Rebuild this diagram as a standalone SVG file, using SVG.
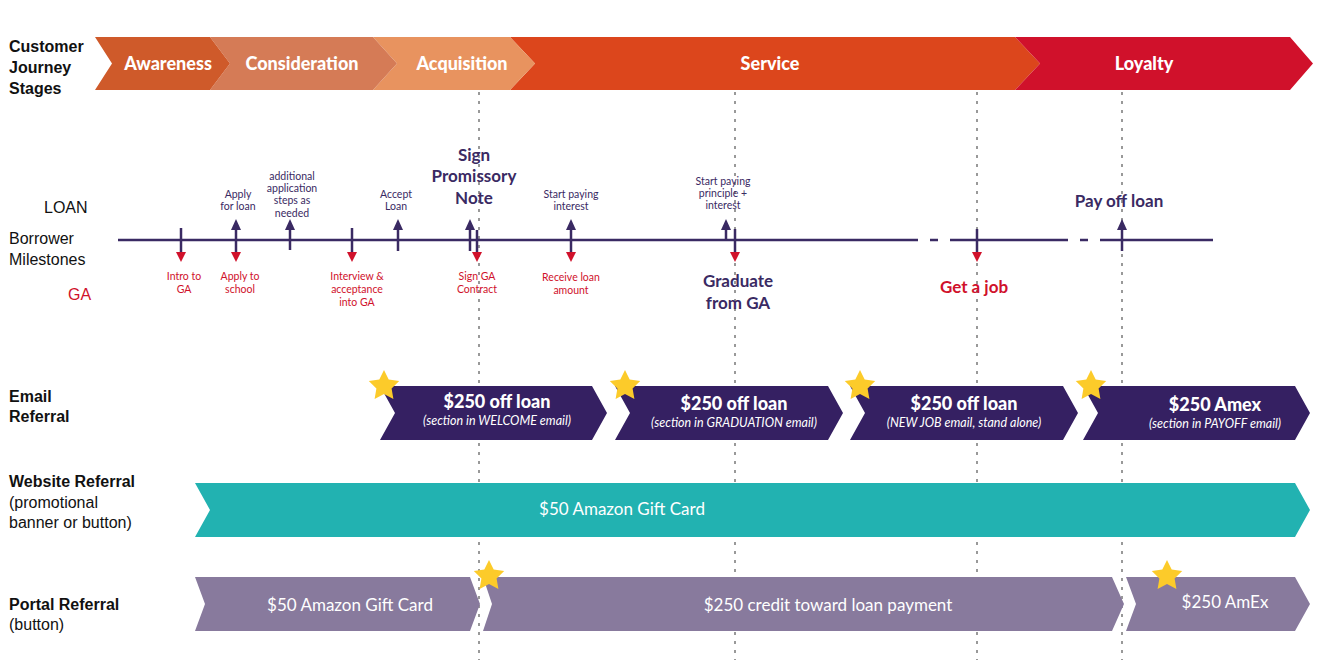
<svg xmlns="http://www.w3.org/2000/svg" width="1330" height="665" viewBox="0 0 1330 665">
<style>
.lbl{font-family:"Liberation Sans",Arial,sans-serif;font-weight:bold;font-size:16px;fill:#111}
.lbln{font-family:"Liberation Sans",Arial,sans-serif;font-size:16px;fill:#111}
.st{font-family:Lato,"Liberation Sans",sans-serif;font-weight:900;font-size:18px;fill:#fff;text-anchor:middle}
.sm{font-family:Lato,"Liberation Sans",sans-serif;font-size:10.5px;text-anchor:middle}
.p{fill:#3A2A63}.r{fill:#D0112B}
.big{font-family:Lato,"Liberation Sans",sans-serif;font-weight:bold;font-size:17px;text-anchor:middle}
.eh{font-family:Lato,"Liberation Sans",sans-serif;font-weight:900;font-size:18px;fill:#fff;text-anchor:middle}
.es{font-family:Lato,"Liberation Sans",sans-serif;font-style:italic;font-size:12.5px;fill:#fff;text-anchor:middle}
.wt{font-family:Lato,"Liberation Sans",sans-serif;font-size:17px;fill:#fff;text-anchor:middle}
.vd{stroke:#999;stroke-width:2;stroke-dasharray:3,6}
.ml{stroke:#3A2A63;stroke-width:2.5}
.star{fill:#FCCB2A}
</style>
<defs>
<polygon id="star" class="star" points="0,-16 4.7,-6.5 15.2,-4.9 7.6,2.5 9.4,12.9 0,8 -9.4,12.9 -7.6,2.5 -15.2,-4.9 -4.7,-6.5"/>
</defs>
<g id="vlines">
<line class="vd" x1="479" y1="92" x2="479" y2="660"/>
<line class="vd" x1="735" y1="92" x2="735" y2="660"/>
<line class="vd" x1="977" y1="92" x2="977" y2="660"/>
<line class="vd" x1="1122" y1="92" x2="1122" y2="660"/>
</g>
<g id="labels">
<text class="lbl" x="9" y="52">Customer</text>
<text class="lbl" x="9" y="73">Journey</text>
<text class="lbl" x="9" y="94">Stages</text>
<text class="lbln" x="44" y="213" fill="#111">LOAN</text>
<text class="lbln" x="9" y="244">Borrower</text>
<text class="lbln" x="9" y="265">Milestones</text>
<text class="lbln" x="68" y="300" style="fill:#D0112B">GA</text>
<text class="lbl" x="9" y="402">Email</text>
<text class="lbl" x="9" y="422">Referral</text>
<text class="lbl" x="9" y="487">Website Referral</text>
<text class="lbln" x="9" y="508">(promotional</text>
<text class="lbln" x="9" y="528">banner or button)</text>
<text class="lbl" x="9" y="610">Portal Referral</text>
<text class="lbln" x="9" y="630">(button)</text>
</g>
<g id="stages">
<polygon fill="#DC461C" points="510,37 1015,37 1040,63.5 1015,90 510,90 535,63.5"/>
<polygon fill="#D0112B" points="1015,37 1290,37 1313,63.5 1290,90 1015,90 1040,63.5"/>
<polygon fill="#E8935F" points="373,37 510,37 535,63.5 510,90 373,90 397,63.5"/>
<polygon fill="#D57B56" points="210,37 373,37 397,63.5 373,90 210,90 230,63.5"/>
<polygon fill="#CF5A2A" points="95,37 210,37 230,63.5 210,90 95,90 112,63.5"/>
<text class="st" x="168" y="70">Awareness</text>
<text class="st" x="302" y="70">Consideration</text>
<text class="st" x="462" y="70">Acquisition</text>
<text class="st" x="770" y="70">Service</text>
<text class="st" x="1144" y="70">Loyalty</text>
</g>
<g id="timeline">
<line class="ml" x1="118" y1="240" x2="910" y2="240"/>
<line class="ml" x1="910" y1="240" x2="958" y2="240" stroke-dasharray="8,12"/>
<line class="ml" x1="958" y1="240" x2="1060" y2="240"/>
<line class="ml" x1="1060" y1="240" x2="1100" y2="240" stroke-dasharray="8,12"/>
<line class="ml" x1="1100" y1="240" x2="1213" y2="240"/>
</g>
<g id="markers" stroke-width="2.5">
<!-- down arrows -->
<g stroke="#3A2A63">
<line x1="181" y1="228" x2="181" y2="253"/>
<line x1="236" y1="228" x2="236" y2="253"/>
<line x1="290" y1="228" x2="290" y2="250"/>
<line x1="352" y1="228" x2="352" y2="253"/>
<line x1="398" y1="228" x2="398" y2="251"/>
<line x1="470" y1="228" x2="470" y2="251"/>
<line x1="477" y1="230" x2="477" y2="253"/>
<line x1="571" y1="228" x2="571" y2="253"/>
<line x1="726" y1="228" x2="726" y2="240"/>
<line x1="735" y1="229" x2="735" y2="253"/>
<line x1="977" y1="229" x2="977" y2="253"/>
<line x1="1122" y1="228" x2="1122" y2="251"/>
</g>
<g class="r" stroke="none">
<polygon points="176,252 186,252 181,262"/>
<polygon points="231,252 241,252 236,262"/>
<polygon points="347,252 357,252 352,262"/>
<polygon points="472,252 482,252 477,262"/>
<polygon points="566,252 576,252 571,262"/>
<polygon points="730,252 740,252 735,262"/>
<polygon points="972,252 982,252 977,262"/>
</g>
<g class="p" stroke="none">
<polygon points="231,230 241,230 236,219"/>
<polygon points="285,230 295,230 290,219"/>
<polygon points="393,230 403,230 398,219"/>
<polygon points="465,230 475,230 470,219"/>
<polygon points="566,230 576,230 571,219"/>
<polygon points="721,230 731,230 726,219"/>
<polygon points="1117,230 1127,230 1122,219"/>
</g>
</g>
<g id="milestone-text">
<text class="sm r" x="184" y="280">Intro to</text><text class="sm r" x="184" y="293">GA</text>
<text class="sm p" x="238" y="198">Apply</text><text class="sm p" x="238" y="210">for loan</text>
<text class="sm r" x="240" y="280">Apply to</text><text class="sm r" x="240" y="293">school</text>
<text class="sm p" x="292" y="180">additional</text><text class="sm p" x="292" y="192">application</text><text class="sm p" x="292" y="204">steps as</text><text class="sm p" x="292" y="217">needed</text>
<text class="sm r" x="357" y="280">Interview &amp;</text><text class="sm r" x="357" y="293">acceptance</text><text class="sm r" x="357" y="306">into GA</text>
<text class="sm p" x="396" y="198">Accept</text><text class="sm p" x="396" y="210">Loan</text>
<text class="big p" x="474" y="161">Sign</text><text class="big p" x="474" y="182">Promissory</text><text class="big p" x="474" y="204">Note</text>
<text class="sm r" x="477" y="280">Sign GA</text><text class="sm r" x="477" y="293">Contract</text>
<text class="sm p" x="571" y="198">Start paying</text><text class="sm p" x="571" y="210">interest</text>
<text class="sm r" x="571" y="281">Receive loan</text><text class="sm r" x="571" y="294">amount</text>
<text class="sm p" x="723" y="185">Start paying</text><text class="sm p" x="723" y="197">principle +</text><text class="sm p" x="723" y="209">interest</text>
<text class="big p" x="738" y="287">Graduate</text><text class="big p" x="738" y="309">from GA</text>
<text class="big r" x="974" y="293">Get a job</text>
<text class="big p" x="1119" y="207">Pay off loan</text>
</g>
<g id="email" fill="#352062">
<polygon points="380,386 592,386 607,413 592,440 380,440 395,413"/>
<polygon points="615,386 828,386 843,413 828,440 615,440 630,413"/>
<polygon points="850,386 1063,386 1078,413 1063,440 850,440 865,413"/>
<polygon points="1083,386 1295,386 1310,413 1295,440 1083,440 1098,413"/>
<text class="eh" x="497" y="408">$250 off loan</text><text class="es" x="497" y="425">(section in WELCOME email)</text>
<text class="eh" x="734" y="410">$250 off loan</text><text class="es" x="734" y="427">(section in  GRADUATION email)</text>
<text class="eh" x="964" y="410">$250 off loan</text><text class="es" x="964" y="427">(NEW JOB email, stand alone)</text>
<text class="eh" x="1215" y="411">$250 Amex</text><text class="es" x="1215" y="428">(section in PAYOFF email)</text>
<use href="#star" x="384" y="386"/>
<use href="#star" x="625" y="386"/>
<use href="#star" x="860" y="386"/>
<use href="#star" x="1091" y="386"/>
</g>
<g id="website">
<polygon fill="#22B2B1" points="195,483 1295,483 1310,510 1295,537 195,537 210,510"/>
<text class="wt" x="622" y="515">$50 Amazon Gift Card</text>
</g>
<g id="portal" fill="#887A9D">
<polygon points="195,577 470,577 480,604 470,631 195,631 205,604"/>
<polygon points="483,577 1112,577 1124,604 1112,631 483,631 492,604"/>
<polygon points="1126,577 1295,577 1310,604 1295,631 1126,631 1136,604"/>
<text class="wt" x="350" y="611">$50 Amazon Gift Card</text>
<text class="wt" x="828" y="611">$250 credit toward loan payment</text>
<text class="wt" x="1225" y="608">$250 AmEx</text>
<use href="#star" x="489" y="576" transform="translate(0,0)"/>
<use href="#star" x="1167" y="576"/>
</g>
</svg>
